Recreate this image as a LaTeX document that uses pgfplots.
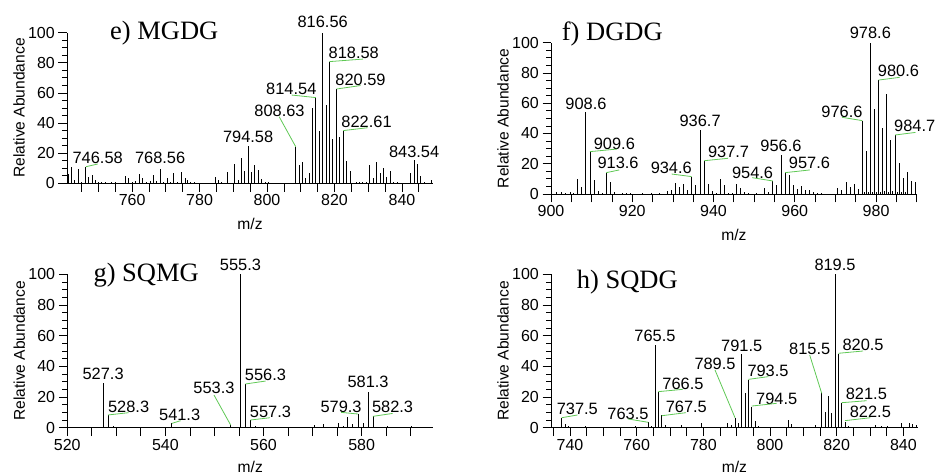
\documentclass[border=0pt]{standalone}
\usepackage{fontspec}
\setmainfont{Liberation Sans}
\newfontfamily\serif{Liberation Serif}
\usepackage{pgfplots}
\pgfplotsset{compat=1.18}
\definecolor{lead}{RGB}{95,200,85}

\pgfplotsset{
  ms/.style={
    scale only axis, anchor=south west, clip=false,
    axis x line*=bottom, axis y line*=left,
    axis line style={-, line width=0.8pt},
    every tick/.style={black, line width=0.8pt},
    tick align=outside, major tick length=8.5pt, minor tick length=5pt,
    ymin=0, ymax=100, ytick={0,20,...,100}, minor ytick={5,10,...,95},
    yticklabels={0,20,40,60,80,100},
    tick label style={font=\fontsize{16}{16}\selectfont},
    yticklabel style={inner sep=3.5pt},
    xticklabel style={inner sep=2.7pt},
    label style={font=\fontsize{15.6}{15.6}\selectfont},
    xlabel={m/z}, ylabel={Relative Abundance},
    ylabel style={at={(axis description cs:-0.131,0.5)}, anchor=center},
  },
  st/.style={ycomb, black, line width=0.9pt, mark=none},
}
\tikzset{
  pk/.style={font=\fontsize{16.4}{16.4}\selectfont, inner sep=0pt},
  ld/.style={lead, line width=0.8pt},
  ttl/.style={anchor=base west, inner sep=0pt, font=\serif\fontsize{26.5}{26.5}\selectfont},
}

\begin{document}
\begin{tikzpicture}[x=1pt,y=1pt]
\useasboundingbox (0,0) rectangle (935,474);

% e) MGDG
\begin{axis}[ms, at={(67pt,290.7pt)}, width=366pt, height=150.6pt,
  xmin=740.7, xmax=849.2,
  xtick={745,750,...,845}, xticklabels={,,,760,,,,780,,,,800,,,,820,,,,840,},
  xlabel style={at={(axis description cs:0.5,-0.272)}, anchor=center}]
\addplot[st] coordinates {
(741.0,6.5) (742.0,10.5) (743.0,2.2) (744.1,9.5) (745.0,1) (746.3,11) (747.1,4.4)
(748.1,5.2) (749.1,2.2) (750.0,0.8) (751,0.6) (752,0.7) (753,0.5) (754,0.6) (755.2,0.8)
(757.9,4.6) (758.9,3.4) (760.0,1.1) (761.0,1.3) (762.2,6.1) (763.2,3.6) (764.3,1)
(765.3,1.6) (766.3,5.7) (767.2,1.3) (768.4,9.6) (769.3,1) (770.4,3.3) (771.3,1)
(772.4,6.6) (773.3,1) (774.5,7.2) (775.7,3.3) (776.5,2.1) (777.4,0.8) (778.4,1)
(779.3,0.5) (784.6,4.5) (785.6,2.2) (786.5,0.6) (788.4,7.3) (790.4,12.8) (791.4,2.2)
(792.4,16.8) (793.4,8.2) (794.4,24.8) (795.4,7.7) (796.4,11.9) (797.4,8.8) (798.4,2.7)
(799.4,0.8) (800.4,0.9) (808.5,24.3) (809.5,12.4) (810.5,14.2) (811.5,3.3) (812.5,6.6)
(813.5,49.8) (814.5,56.9) (815.5,34.7) (816.5,100) (817.5,52) (818.5,80.8) (819.5,29.4)
(820.6,62.6) (821.6,31) (822.6,35) (823.6,14.6) (824.6,8.4) (826.4,0.8) (827.4,1)
(828.4,1) (829.4,0.8) (830.5,12) (831.5,3.8) (832.5,14.2) (833.5,6.6) (834.5,10)
(835.5,4.4) (836.6,8.2) (837.6,1) (838.6,0.7) (842.6,6.6) (843.6,15.5) (844.6,12.6)
(845.6,5.1) (846.6,1) (847.6,0.5) (848.6,2.2)};
\node[pk] at (axis cs:816.5,107.2) {816.56};
\node[pk] at (axis cs:825.7,86.3) {818.58}; \draw[ld] (axis cs:818.5,80.8) -- (axis cs:828.5,82.5);
\node[pk] at (axis cs:827.7,68.5) {820.59}; \draw[ld] (axis cs:820.6,62.6) -- (axis cs:827.7,64.9);
\node[pk] at (axis cs:807.2,62.4) {814.54}; \draw[ld] (axis cs:807.3,58.6) -- (axis cs:814.5,56.9);
\node[pk] at (axis cs:803.7,48) {808.63}; \draw[ld] (axis cs:803.6,44.2) -- (axis cs:808.5,24.3);
\node[pk] at (axis cs:829.5,40.5) {822.61}; \draw[ld] (axis cs:822.6,35) -- (axis cs:829.8,36.9);
\node[pk] at (axis cs:794.4,30.9) {794.58};
\node[pk] at (axis cs:843.6,21.1) {843.54};
\node[pk] at (axis cs:749.8,16.6) {746.58}; \draw[ld] (axis cs:746.3,11) -- (axis cs:749.8,12.8);
\node[pk] at (axis cs:768.3,16.6) {768.56};
\end{axis}

% f) DGDG
\begin{axis}[ms, at={(551pt,280pt)}, width=365.7pt, height=151.3pt,
  xmin=900, xmax=990,
  xtick={900,905,...,990}, xticklabels={900,,,,920,,,,940,,,,960,,,,980,,},
  xlabel style={at={(axis description cs:0.5,-0.271)}, anchor=center}]
\addplot[st] coordinates {
(901.4,1.1) (902.6,1) (903.6,0.6) (904.7,1.5) (905.6,0.8) (906.6,9.7) (907.6,4.4)
(908.6,54) (909.6,28) (910.6,9.3) (911.6,2) (912.6,0.8) (913.6,14.1) (914.6,7.7)
(915.6,1) (917.6,0.6) (918.6,0.6) (919.6,0.5) (922.6,0.4) (924.6,0.4) (926.6,0.5)
(928.6,2.2) (929.6,2.6) (930.6,7.5) (931.6,4.4) (932.6,6.8) (933.6,2.6) (934.6,11.5)
(935.6,6) (936.7,42.3) (937.7,22) (938.7,6.4) (939.7,2) (940.7,0.6) (941.6,9.9)
(942.6,5.7) (943.6,0.8) (944.6,0.5) (945.6,6.4) (946.6,3.7) (947.6,1) (948.6,0.4)
(950.6,0.5) (952.6,3.7) (953.6,1.3) (954.6,8.6) (955.6,5.7) (956.6,25.8) (957.6,14.1)
(958.6,12.6) (959.6,6) (960.6,3.1) (961.6,5.3) (962.6,2.4) (963.6,2.4) (964.6,1)
(965.6,0.5) (966.6,0.4) (970.6,3.7) (971.6,2.6) (972.6,8.1) (973.6,4.8) (974.6,6.6)
(975.6,3.1) (976.6,48.5) (977.1,1) (977.6,28.6) (978.1,1.5) (978.6,100) (979.1,1)
(979.6,56.2) (980.1,1.5) (980.6,75.3) (981.1,1.2) (981.6,43.6) (982.1,1.8) (982.6,66)
(983.1,1.5) (983.6,35.7) (984.1,2) (984.7,39) (985.2,1.5) (985.7,20.3) (986.2,1.2)
(986.7,10.4) (987.2,1) (987.7,14.8) (988.7,8.8) (989.7,8.1)};
\node[pk] at (axis cs:978.6,106.8) {978.6};
\node[pk] at (axis cs:985.5,81.3) {980.6}; \draw[ld] (axis cs:980.6,75.3) -- (axis cs:985.8,77.1);
\node[pk] at (axis cs:908.6,59.9) {908.6};
\node[pk] at (axis cs:971.6,54) {976.6}; \draw[ld] (axis cs:971.6,50.7) -- (axis cs:976.6,48.5);
\node[pk] at (axis cs:936.7,48.5) {936.7};
\node[pk] at (axis cs:989.5,44.9) {984.7}; \draw[ld] (axis cs:984.7,39) -- (axis cs:989.7,40.7);
\node[pk] at (axis cs:915.6,33) {909.6}; \draw[ld] (axis cs:909.6,28) -- (axis cs:916.2,29.7);
\node[pk] at (axis cs:916.5,20.3) {913.6}; \draw[ld] (axis cs:913.6,14.1) -- (axis cs:916.8,15.9);
\node[pk] at (axis cs:943.7,27.8) {937.7}; \draw[ld] (axis cs:937.7,22) -- (axis cs:943.6,23.6);
\node[pk] at (axis cs:929.6,17.6) {934.6}; \draw[ld] (axis cs:929.7,13.2) -- (axis cs:934.6,11.5);
\node[pk] at (axis cs:956.6,31.9) {956.6};
\node[pk] at (axis cs:963.6,20.3) {957.6}; \draw[ld] (axis cs:957.6,14.1) -- (axis cs:963.7,15.9);
\node[pk] at (axis cs:949.6,14.3) {954.6}; \draw[ld] (axis cs:949.5,10.8) -- (axis cs:954.6,8.6);
\end{axis}

% g) SQMG
\begin{axis}[ms, at={(67.3pt,46.3pt)}, width=366pt, height=153.4pt,
  xmin=520, xmax=594.6,
  xtick={520,525,...,590}, xticklabels={520,,,,540,,,,560,,,,580,,},
  xlabel style={at={(axis description cs:0.5,-0.255)}, anchor=center}]
\addplot[st] coordinates {
(521,0.6) (522,0.5) (523,0.7) (524,0.5) (525,0.6) (526,0.5) (527.3,29.3) (528.3,8.3)
(529.4,1) (530.4,0.6) (531.4,0.5) (532.4,0.7) (533.4,0.5) (534.4,0.6) (535.4,0.5)
(536.4,0.6) (537.4,0.5) (538.4,0.7) (539.4,0.5) (540.4,0.6) (541.3,2.8) (542.4,0.5)
(543.4,0.6) (544.4,0.5) (545.4,0.7) (546.4,0.5) (547.4,0.6) (548.4,0.5) (549.4,0.6)
(550.4,0.5) (551.4,0.7) (552.4,0.5) (553.3,1.7) (555.3,100) (556.3,28.5) (557.3,5)
(558.3,1) (559.4,0.6) (560.4,0.5) (561.4,0.7) (562.4,0.5) (563.4,0.6) (564.4,0.5)
(565.4,0.6) (566.4,0.5) (567.4,0.7) (568.4,0.5) (569.4,0.6) (570.3,1.7) (571.3,0.5)
(572.3,2.2) (573.3,0.6) (574.3,0.7) (575.3,2.8) (576.2,1.3) (577.2,6.7) (578.2,2.2)
(579.3,8.9) (580.3,2.8) (581.3,23.5) (582.3,7.4) (583.3,0.7) (584.3,0.5) (585.2,0.9)
(586.3,0.6) (587.3,0.5) (588.3,0.6) (589.3,0.5) (590.2,0.9) (591.2,0.6) (592.2,0.5)
(593.2,0.6) (594.2,0.5)};
\node[pk] at (axis cs:555.3,106.1) {555.3};
\node[pk] at (axis cs:527.3,35.4) {527.3};
\node[pk] at (axis cs:532.5,13.3) {528.3}; \draw[ld] (axis cs:528.3,8.3) -- (axis cs:532.5,9.8);
\node[pk] at (axis cs:542.9,8.3) {541.3}; \draw[ld] (axis cs:541.3,2.8) -- (axis cs:543.1,4.6);
\node[pk] at (axis cs:549.9,25.7) {553.3}; \draw[ld] (axis cs:549.9,21.3) -- (axis cs:553.3,1.7);
\node[pk] at (axis cs:560.4,34.3) {556.3}; \draw[ld] (axis cs:556.3,28.5) -- (axis cs:560.4,30.4);
\node[pk] at (axis cs:561.4,10.4) {557.3}; \draw[ld] (axis cs:557.3,5) -- (axis cs:561.3,6.5);
\node[pk] at (axis cs:575.8,13.7) {579.3}; \draw[ld] (axis cs:575.8,10) -- (axis cs:579.3,8.9);
\node[pk] at (axis cs:581.3,30) {581.3};
\node[pk] at (axis cs:586.3,13.3) {582.3}; \draw[ld] (axis cs:582.3,7.4) -- (axis cs:586.3,9.3);
\end{axis}

% h) SQDG
\begin{axis}[ms, at={(551pt,46.3pt)}, width=366.7pt, height=153.4pt,
  xmin=734.3, xmax=844.3,
  xtick={735,740,...,840}, xticklabels={,740,,,,760,,,,780,,,,800,,,,820,,,,840},
  xlabel style={at={(axis description cs:0.5,-0.255)}, anchor=center}]
\addplot[st] coordinates {
(735.5,0.6) (736.5,0.5) (737.5,6.5) (738.5,2.2) (739.5,0.8) (740.5,0.6) (741.5,0.5)
(742.5,0.7) (743.5,0.5) (744.5,0.8) (745.5,0.5) (746.5,0.7) (747.5,0.5) (749.5,0.6)
(751.5,0.7) (752.5,0.5) (753.5,0.6) (754.5,0.5) (755.5,0.7) (756.5,0.6) (757.5,0.5)
(758.5,0.6) (759.5,0.8) (760.5,0.6) (761.5,0.5) (762.5,0.7) (763.5,3.9) (764.5,1)
(765.5,53.9) (766.5,23) (767.5,8.3) (768.5,1.7) (769.5,0.6) (770.5,0.5) (771.5,0.7)
(772.5,0.5) (773.5,1.7) (774.5,0.6) (775.5,0.5) (776.5,0.7) (777.5,0.5) (778.5,0.6)
(779.3,2.8) (780.5,0.6) (781.5,0.5) (782.5,0.7) (783.5,0.5) (784.5,0.6) (785.5,0.5)
(786.5,0.7) (787.3,2.8) (788.3,1.7) (789.5,6.5) (790.5,2.8) (791.5,47.8) (792.5,22.8)
(793.5,31.1) (794.5,13.7) (795.5,4.3) (796.5,1) (797.5,0.6) (798.5,0.5) (799.5,0.7)
(800.5,0.5) (801.5,0.6) (802.5,0.5) (803.5,0.7) (804.5,0.5) (805.5,5) (806.5,2.2)
(807.5,0.6) (808.5,0.5) (809.5,0.7) (810.5,0.5) (811.5,0.6) (812.5,0.5) (813.5,1.7)
(814.5,0.6) (815.5,22.4) (816.5,10.4) (817.5,20.9) (818.5,9.3) (819.5,100) (820.5,47.8)
(821.5,15.9) (822.5,3.9) (823.5,1) (824.5,0.6) (825.5,0.5) (826.5,0.7) (827.5,0.5)
(828.5,0.6) (829.5,0.5) (830.5,0.7) (831.5,1.7) (832.5,0.6) (833.3,1.3) (834.5,0.7)
(835.3,1) (836.5,0.6) (837.5,0.5) (838.5,0.7) (839.5,2.8) (840.5,0.6) (841.8,2.8)
(842.8,2.2) (843.8,1.7)};
\node[pk] at (axis cs:819.5,106.1) {819.5};
\node[pk] at (axis cs:765.5,60) {765.5};
\node[pk] at (axis cs:791.5,53.5) {791.5};
\node[pk] at (axis cs:811.9,51.7) {815.5}; \draw[ld] (axis cs:811.9,47.4) -- (axis cs:815.5,22.4);
\node[pk] at (axis cs:827.9,53.9) {820.5}; \draw[ld] (axis cs:820.5,48.5) -- (axis cs:827.9,50);
\node[pk] at (axis cs:783.5,41.3) {789.5}; \draw[ld] (axis cs:783.5,37.6) -- (axis cs:789.5,6.5);
\node[pk] at (axis cs:799.4,37) {793.5}; \draw[ld] (axis cs:793.5,31.5) -- (axis cs:799.5,33.3);
\node[pk] at (axis cs:773.9,28.9) {766.5}; \draw[ld] (axis cs:766.5,23.5) -- (axis cs:773.8,25);
\node[pk] at (axis cs:828.9,22) {821.5}; \draw[ld] (axis cs:821.5,16.3) -- (axis cs:829,17.6);
\node[pk] at (axis cs:802,19.1) {794.5}; \draw[ld] (axis cs:794.5,14.1) -- (axis cs:802,15.9);
\node[pk] at (axis cs:774.9,13.7) {767.5}; \draw[ld] (axis cs:767.5,7.8) -- (axis cs:774.8,9.8);
\node[pk] at (axis cs:742.2,12.6) {737.5}; \draw[ld] (axis cs:737.5,6.5) -- (axis cs:742.3,8.3);
\node[pk] at (axis cs:757.4,8.9) {763.5}; \draw[ld] (axis cs:757.4,5.7) -- (axis cs:763.5,3.5);
\node[pk] at (axis cs:830.1,10.4) {822.5}; \draw[ld] (axis cs:822.5,4.6) -- (axis cs:830.1,6.5);
\end{axis}

\node[ttl] at (110,434.7) {e) MGDG};
\node[ttl] at (561.7,433.3) {f) DGDG};
\node[ttl] at (93.3,192) {g) SQMG};
\node[ttl] at (576.7,185.7) {h) SQDG};
\end{tikzpicture}
\end{document}
